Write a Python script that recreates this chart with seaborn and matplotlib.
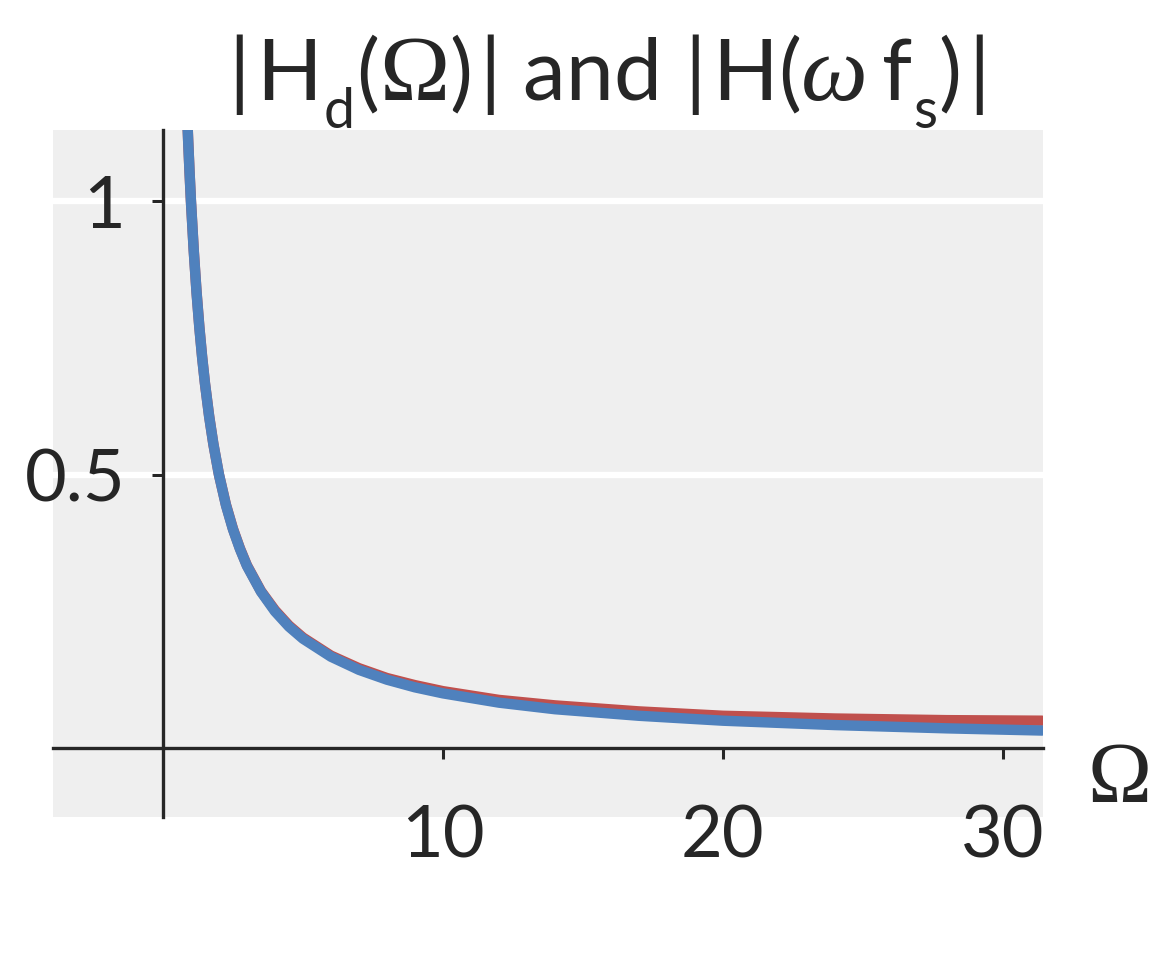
import numpy as np
import pandas as pd
import matplotlib
matplotlib.use("Agg")
import matplotlib.pyplot as plt
import seaborn as sns

# values (Omega, magnitude)
omega = [0.85, 0.9, 0.95, 1.0, 1.1, 1.2, 1.3, 1.4, 1.5, 1.65, 1.8, 2.0, 2.25,
         2.5, 2.75, 3.0, 3.5, 4.0, 4.5, 5.0, 6.0, 7.0, 8.0, 9.0, 10.0, 12.0,
         14.0, 17.0, 20.0, 24.0, 28.0, 31.4]
h_analog = [1.176, 1.111, 1.053, 1.0, 0.909, 0.833, 0.769, 0.714, 0.667, 0.606,
            0.556, 0.5, 0.444, 0.4, 0.364, 0.333, 0.286, 0.25, 0.222, 0.2,
            0.167, 0.143, 0.125, 0.111, 0.1, 0.083, 0.071, 0.059, 0.05, 0.042,
            0.036, 0.032]
h_digital = [1.177, 1.112, 1.053, 1.0, 0.91, 0.834, 0.77, 0.715, 0.667, 0.607,
             0.556, 0.5, 0.445, 0.401, 0.365, 0.334, 0.287, 0.252, 0.224, 0.202,
             0.169, 0.146, 0.128, 0.115, 0.104, 0.088, 0.078, 0.067, 0.059,
             0.054, 0.051, 0.05]
xticks = [10, 20, 30]
yticks = [0.5, 1]
ytick_labels = ["0.5", "1"]

df = pd.DataFrame({"omega": omega, "hd": h_digital, "h": h_analog})

sns.set_theme(style="darkgrid")
plt.rcParams["font.family"] = ["Lato", "DejaVu Sans"]
ink = "#262626"

fig = plt.figure(figsize=(11.52, 9.6), dpi=100)
ax = fig.add_axes([0.046, 0.149, 0.859, 0.7156])
ax.set_facecolor("#efefef")

sns.lineplot(data=df, x="omega", y="hd", color="#c0504d", lw=7.5, ax=ax)
sns.lineplot(data=df, x="omega", y="h", color="#4f81bd", lw=7.5, ax=ax)

ax.set_xlim(-np.pi * 10 / 8, np.pi * 10)
ax.set_ylim(-0.126, 1.13)
ax.set_xticks(xticks)
ax.set_yticks(yticks)
ax.set_yticklabels(ytick_labels)

ax.grid(False)
ax.grid(axis="y", color="white", lw=4.5)

for side in ["top", "right"]:
    ax.spines[side].set_visible(False)
for side in ["left", "bottom"]:
    ax.spines[side].set_visible(True)
    ax.spines[side].set_position(("data", 0))
    ax.spines[side].set_color(ink)
    ax.spines[side].set_linewidth(2.4)

ax.tick_params(axis="both", direction="out", length=8, width=2.2,
               color=ink, labelsize=52, labelcolor=ink)
ax.tick_params(axis="x", bottom=True, pad=33)
ax.tick_params(axis="y", left=True, pad=19)

ax.set_xlabel("Ω", fontsize=62, color=ink, family="Liberation Serif")
ax.xaxis.set_label_coords(1.078, 0.11)
ax.set_ylabel("")

# title built piece by piece so the subscripts drop like in the reference
main_size, sub_size, greek_size = 62, 40, 68
base_y, sub_y = 860, 832  # figure pixels, from the bottom

def piece(prev, s, size=main_size, y=base_y, dx=0, **kw):
    return ax.annotate(s, xy=(1, y), xycoords=(prev, "figure pixels"),
                       xytext=(dx, 0), textcoords="offset points",
                       fontsize=size, color=ink, ha="left", va="baseline",
                       annotation_clip=False, **kw)

t = fig.text(228 / 1152, base_y / 960, "|", fontsize=main_size, color=ink,
             ha="left", va="baseline")
t = piece(t, "H", dx=5)
t = piece(t, "d", size=sub_size, y=sub_y, dx=1)
t = piece(t, "(", dx=1)
t = piece(t, "Ω", size=greek_size, family="Liberation Serif")
t = piece(t, ")")
t = piece(t, "|", dx=5)
t = piece(t, " and ")
t = piece(t, "|")
t = piece(t, "H", dx=5)
t = piece(t, "(")
t = piece(t, "ω", size=greek_size, family="Liberation Serif", style="italic")
t = piece(t, "f", dx=10)
t = piece(t, "s", size=sub_size, y=sub_y, dx=1)
t = piece(t, ")", dx=1)
t = piece(t, "|", dx=5)

fig.savefig("out.png", dpi=100)
